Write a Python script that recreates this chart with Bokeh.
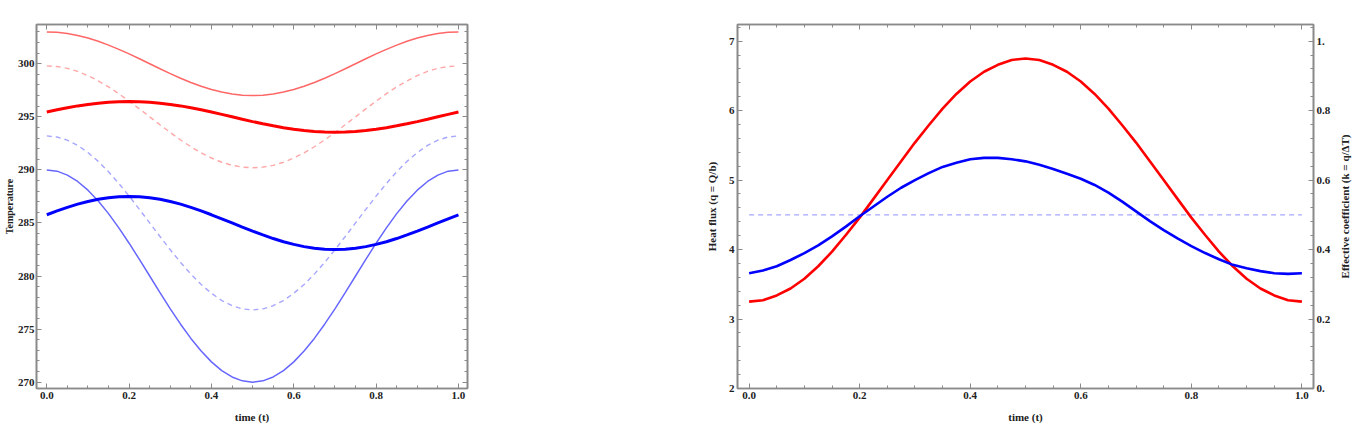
from bokeh.plotting import figure
from bokeh.models import Range1d, LinearAxis, FixedTicker, CustomJSTickFormatter, Spacer
from bokeh.layouts import row
from bokeh.embed import file_html
from bokeh.resources import INLINE

# ---------------- data ----------------
t = [0.0, 0.025, 0.05, 0.075, 0.1, 0.125, 0.15, 0.175, 0.2, 0.225,
     0.25, 0.275, 0.3, 0.325, 0.35, 0.375, 0.4, 0.425, 0.45, 0.475,
     0.5, 0.525, 0.55, 0.575, 0.6, 0.625, 0.65, 0.675, 0.7, 0.725,
     0.75, 0.775, 0.8, 0.825, 0.85, 0.875, 0.9, 0.925, 0.95, 0.975, 1.0]

# left panel: temperatures
red_outer = [303.00, 302.96, 302.85, 302.67, 302.43, 302.12, 301.76, 301.36, 300.93, 300.47,
             300.00, 299.53, 299.07, 298.64, 298.24, 297.88, 297.57, 297.33, 297.15, 297.04,
             297.00, 297.04, 297.15, 297.33, 297.57, 297.88, 298.24, 298.64, 299.07, 299.53,
             300.00, 300.47, 300.93, 301.36, 301.76, 302.12, 302.43, 302.67, 302.85, 302.96, 303.00]
red_mid = [299.80, 299.74, 299.57, 299.28, 298.88, 298.39, 297.82, 297.18, 296.48, 295.75,
           295.00, 294.25, 293.52, 292.82, 292.18, 291.61, 291.12, 290.72, 290.43, 290.26,
           290.20, 290.26, 290.43, 290.72, 291.12, 291.61, 292.18, 292.82, 293.52, 294.25,
           295.00, 295.75, 296.48, 297.18, 297.82, 298.39, 298.88, 299.28, 299.57, 299.74, 299.80]
red_inner = [295.45, 295.66, 295.85, 296.03, 296.17, 296.29, 296.38, 296.43, 296.45, 296.43,
             296.38, 296.29, 296.17, 296.03, 295.85, 295.66, 295.45, 295.23, 295.00, 294.77,
             294.55, 294.34, 294.15, 293.98, 293.83, 293.71, 293.62, 293.57, 293.55, 293.57,
             293.62, 293.71, 293.83, 293.98, 294.15, 294.34, 294.55, 294.77, 295.00, 295.23, 295.45]
blue_mid = [293.20, 293.10, 292.80, 292.31, 291.63, 290.80, 289.82, 288.72, 287.53, 286.28,
            285.00, 283.72, 282.47, 281.28, 280.18, 279.20, 278.37, 277.69, 277.20, 276.90,
            276.80, 276.90, 277.20, 277.69, 278.37, 279.20, 280.18, 281.28, 282.47, 283.72,
            285.00, 286.28, 287.53, 288.72, 289.82, 290.80, 291.63, 292.31, 292.80, 293.10, 293.20]
blue_outer = [290.00, 289.88, 289.51, 288.91, 288.09, 287.07, 285.88, 284.54, 283.09, 281.56,
              280.00, 278.44, 276.91, 275.46, 274.12, 272.93, 271.91, 271.09, 270.49, 270.12,
              270.00, 270.12, 270.49, 271.09, 271.91, 272.93, 274.12, 275.46, 276.91, 278.44,
              280.00, 281.56, 283.09, 284.54, 285.88, 287.07, 288.09, 288.91, 289.51, 289.88, 290.00]
blue_inner = [285.77, 286.13, 286.47, 286.77, 287.02, 287.23, 287.38, 287.47, 287.50, 287.47,
              287.38, 287.23, 287.02, 286.77, 286.47, 286.13, 285.77, 285.39, 285.00, 284.61,
              284.23, 283.87, 283.53, 283.23, 282.98, 282.77, 282.62, 282.53, 282.50, 282.53,
              282.62, 282.77, 282.98, 283.23, 283.53, 283.87, 284.23, 284.61, 285.00, 285.39, 285.77]

# right panel: heat flux and effective coefficient
flux_red = [3.25, 3.27, 3.34, 3.44, 3.58, 3.76, 3.97, 4.21, 4.46, 4.73,
            5.00, 5.27, 5.54, 5.79, 6.03, 6.24, 6.42, 6.56, 6.66, 6.73,
            6.75, 6.73, 6.66, 6.56, 6.42, 6.24, 6.03, 5.79, 5.54, 5.27,
            5.00, 4.73, 4.46, 4.21, 3.97, 3.76, 3.58, 3.44, 3.34, 3.27, 3.25]
flux_blue = [3.66, 3.70, 3.76, 3.85, 3.95, 4.06, 4.19, 4.33, 4.48, 4.62,
             4.76, 4.89, 5.00, 5.10, 5.19, 5.25, 5.30, 5.32, 5.32, 5.30,
             5.27, 5.22, 5.16, 5.09, 5.02, 4.93, 4.82, 4.69, 4.55, 4.41,
             4.28, 4.16, 4.05, 3.95, 3.86, 3.78, 3.73, 3.69, 3.66, 3.65, 3.66]
k_t = [0.0, 1.0]
k_const = [0.5, 0.5]

temp_ticks = [270, 275, 280, 285, 290, 295, 300]
temp_minor = list(range(268, 306))
time_ticks = [0.0, 0.2, 0.4, 0.6, 0.8, 1.0]
time_minor = [round(i * 0.05, 2) for i in range(-1, 22)]
flux_ticks = [2, 3, 4, 5, 6, 7]
flux_minor = [round(2 + i * 0.2, 2) for i in range(0, 27)]
k_ticks = [0.0, 0.2, 0.4, 0.6, 0.8, 1.0]
k_minor = [round(i * 0.04, 2) for i in range(0, 27)]

FONT = "Liberation Serif"
FRAME = "#8a8a8a"
TXT = "#222222"
K_LABEL = "Effective coefficient (k = q/\u0394T)"


def style_axis(ax, show_labels=True):
    ax.axis_line_color = FRAME
    ax.axis_line_width = 1.6
    ax.major_tick_line_color = FRAME
    ax.minor_tick_line_color = FRAME
    ax.major_tick_in = 5
    ax.major_tick_out = 0
    ax.minor_tick_in = 3
    ax.minor_tick_out = 0
    ax.major_label_text_font = FONT
    ax.major_label_text_font_style = "bold"
    ax.major_label_text_font_size = "11px"
    ax.axis_label_text_font = FONT
    ax.axis_label_text_font_style = "bold"
    ax.axis_label_text_color = TXT
    ax.axis_label_text_font_size = "11px"
    ax.major_label_standoff = 3
    if show_labels:
        ax.major_label_text_color = TXT
    else:
        ax.major_label_text_color = None
        ax.major_label_standoff = 0


fmt1 = CustomJSTickFormatter(code="return tick.toFixed(1);")
fmt0 = CustomJSTickFormatter(code="return tick.toFixed(0);")
fmtk = CustomJSTickFormatter(code="if (Math.abs(tick) < 1e-9) return '0.'; if (Math.abs(tick-1) < 1e-9) return '1.'; return tick.toFixed(1);")

# ---------------- left figure ----------------
p1 = figure(width=480, height=430, output_backend="svg", toolbar_location=None,
            x_range=Range1d(-0.025, 1.022), y_range=Range1d(269.4, 303.7),
            min_border_left=33, min_border_right=13, min_border_top=24, min_border_bottom=42,
            x_axis_location=None, y_axis_location=None)
p1.grid.visible = False
p1.outline_line_color = FRAME
p1.outline_line_width = 1.6

bx = LinearAxis(ticker=FixedTicker(ticks=time_ticks, minor_ticks=time_minor), formatter=fmt1,
                axis_label="time (t)")
style_axis(bx)
bx.axis_label_standoff = 9
p1.add_layout(bx, "below")
tx = LinearAxis(ticker=FixedTicker(ticks=time_ticks, minor_ticks=time_minor), formatter=fmt1)
style_axis(tx, False)
p1.add_layout(tx, "above")
ly = LinearAxis(ticker=FixedTicker(ticks=temp_ticks, minor_ticks=temp_minor), formatter=fmt0,
                axis_label="Temperature")
style_axis(ly)
ly.major_label_standoff = 2
ly.axis_label_standoff = 0
ly.axis_label_text_font_size = "10px"
p1.add_layout(ly, "left")
ry = LinearAxis(ticker=FixedTicker(ticks=temp_ticks, minor_ticks=temp_minor), formatter=fmt0)
style_axis(ry, False)
p1.add_layout(ry, "right")

p1.line(t, red_outer, line_color="red", line_alpha=0.6, line_width=1.5)
p1.line(t, red_mid, line_color="red", line_alpha=0.35, line_width=1.4, line_dash="5 4")
p1.line(t, red_inner, line_color="red", line_alpha=1.0, line_width=3)
p1.line(t, blue_mid, line_color="blue", line_alpha=0.35, line_width=1.4, line_dash="5 4")
p1.line(t, blue_outer, line_color="blue", line_alpha=0.6, line_width=1.5)
p1.line(t, blue_inner, line_color="blue", line_alpha=1.0, line_width=3)

# ---------------- right figure ----------------
p2 = figure(width=645, height=430, output_backend="svg", toolbar_location=None,
            x_range=Range1d(-0.021, 1.021), y_range=Range1d(2.0, 7.24),
            min_border_left=47, min_border_right=22, min_border_top=24, min_border_bottom=42,
            x_axis_location=None, y_axis_location=None)
p2.extra_y_ranges = {"k": Range1d(0.0, 1.048)}
p2.grid.visible = False
p2.outline_line_color = FRAME
p2.outline_line_width = 1.6

bx2 = LinearAxis(ticker=FixedTicker(ticks=time_ticks, minor_ticks=time_minor), formatter=fmt1,
                 axis_label="time (t)")
style_axis(bx2)
bx2.axis_label_standoff = 9
p2.add_layout(bx2, "below")
tx2 = LinearAxis(ticker=FixedTicker(ticks=time_ticks, minor_ticks=time_minor), formatter=fmt1)
style_axis(tx2, False)
p2.add_layout(tx2, "above")
ly2 = LinearAxis(ticker=FixedTicker(ticks=flux_ticks, minor_ticks=flux_minor), formatter=fmt0,
                 axis_label="Heat flux (q = Q/b)")
style_axis(ly2)
ly2.axis_label_standoff = 8
p2.add_layout(ly2, "left")
ry2 = LinearAxis(y_range_name="k", ticker=FixedTicker(ticks=k_ticks, minor_ticks=k_minor), formatter=fmtk)
style_axis(ry2)
p2.add_layout(ry2, "right")

p2.line(k_t, k_const, y_range_name="k", line_color="blue", line_alpha=0.35, line_width=1.4, line_dash="5 4")
p2.line(t, flux_red, line_color="red", line_width=2.6)
p2.line(t, flux_blue, line_color="blue", line_width=2.6)

# ---------------- narrow strip carrying the right-hand axis title (reads bottom-to-top) ----------------
p3 = figure(width=25, height=430, output_backend="svg", toolbar_location=None,
            x_range=Range1d(0, 1), y_range=Range1d(0, 1),
            min_border_left=15, min_border_right=0, min_border_top=24, min_border_bottom=42,
            x_axis_location=None, y_axis_location=None)
p3.grid.visible = False
p3.outline_line_color = None
lab_ax = LinearAxis(ticker=FixedTicker(ticks=[]), axis_label=K_LABEL)
lab_ax.axis_line_color = None
lab_ax.major_tick_line_color = None
lab_ax.minor_tick_line_color = None
lab_ax.major_tick_in = 0
lab_ax.major_tick_out = 0
lab_ax.minor_tick_in = 0
lab_ax.minor_tick_out = 0
lab_ax.major_label_text_color = None
lab_ax.major_label_standoff = 0
lab_ax.axis_label_standoff = 0
lab_ax.axis_label_text_font = FONT
lab_ax.axis_label_text_font_style = "bold"
lab_ax.axis_label_text_font_size = "11px"
lab_ax.axis_label_text_color = TXT
p3.add_layout(lab_ax, "left")

layout = row(p1, Spacer(width=210, height=430), p2, p3)
open("out.html", "w").write(file_html(layout, INLINE))
